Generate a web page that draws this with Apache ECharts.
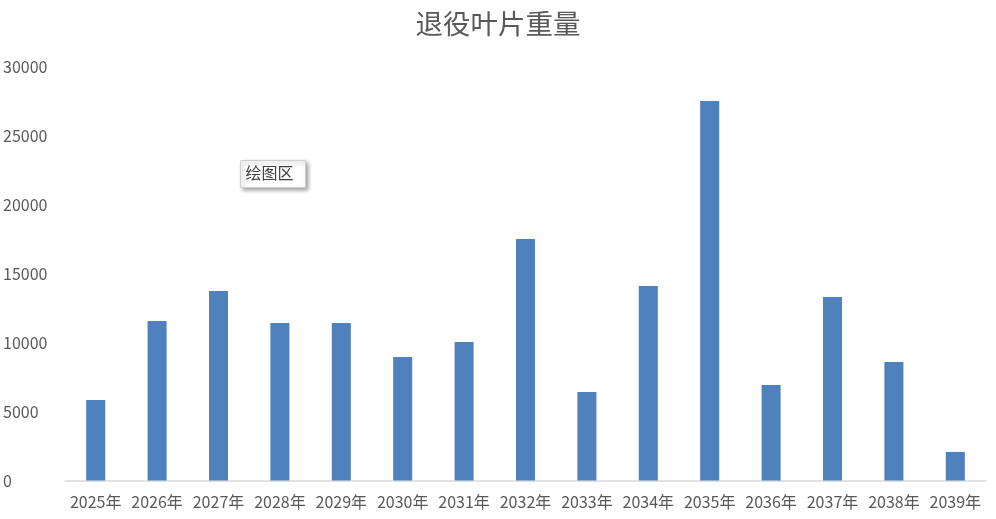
<!DOCTYPE html>
<html>
<head>
<meta charset="utf-8">
<script src="https://cdn.jsdelivr.net/npm/echarts@6/dist/echarts.min.js"></script>
<style>
html,body{margin:0;padding:0;background:#fff;}
#main{width:996px;height:519px;}
</style>
</head>
<body>
<div id="main"></div>
<script>
const categories = ['2025年','2026年','2027年','2028年','2029年','2030年','2031年','2032年','2033年','2034年','2035年','2036年','2037年','2038年','2039年'];
const weights = [5830, 11560, 13730, 11410, 11410, 8950, 10040, 17500, 6410, 14090, 27500, 6920, 13300, 8590, 2070];
const titleText = '退役叶片重量';
const tipText = '绘图区';

const chart = echarts.init(document.getElementById('main'));
const font = '"Noto Sans CJK SC", "Noto Sans", sans-serif';
chart.setOption({
  backgroundColor: '#ffffff',
  animation: false,
  title: {
    text: titleText,
    left: 'center',
    top: 5,
    textStyle: { fontFamily: font, fontSize: 27.5, fontWeight: 'normal', color: '#595959' }
  },
  grid: { left: 63, right: 10, top: 66.5, bottom: 38.5, containLabel: false },
  xAxis: {
    type: 'category',
    data: categories,
    axisLine: { show: true, lineStyle: { color: '#d9d9d9', width: 1.5 } },
    axisTick: { show: false },
    axisLabel: { fontFamily: font, fontSize: 16, color: '#595959', margin: 13, interval: 0 }
  },
  yAxis: {
    type: 'value',
    min: 0,
    max: 30000,
    interval: 5000,
    axisLine: { show: false },
    axisTick: { show: false },
    splitLine: { show: false },
    axisLabel: { fontFamily: font, fontSize: 16, color: '#595959', align: 'left', margin: 62, formatter: v => String(v) }
  },
  series: [{
    type: 'bar',
    data: weights,
    barWidth: '31%',
    itemStyle: { color: '#4f81bd' }
  }],
  graphic: [{
    type: 'group',
    left: 240,
    top: 160,
    children: [{
      type: 'rect',
      shape: { x: 0, y: 0, width: 65, height: 27 },
      style: { fill: '#ffffff', stroke: '#d0d0d0', lineWidth: 1, shadowBlur: 4, shadowOffsetX: 2, shadowOffsetY: 2, shadowColor: 'rgba(0,0,0,0.35)' }
    }, {
      type: 'text',
      x: 5,
      y: 4,
      style: { text: tipText, font: '16px ' + font, fill: '#404040' }
    }]
  }]
});
</script>
</body>
</html>
